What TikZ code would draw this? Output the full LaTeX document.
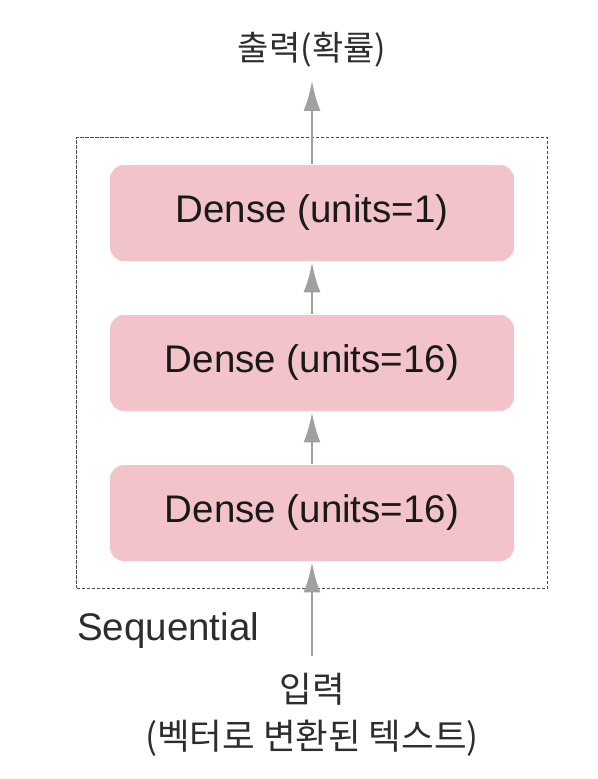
\documentclass[tikz,border=0pt]{standalone}
\usepackage{fontspec}
\setmainfont{Liberation Sans}
\newfontfamily\kr{Noto Sans CJK KR}
\usepackage{tikz}
\usetikzlibrary{arrows.meta, positioning, fit}

\definecolor{layerpink}{RGB}{242,196,201}
\definecolor{arrowgray}{RGB}{160,160,160}
\definecolor{textgray}{RGB}{45,45,45}

\begin{document}
\begin{tikzpicture}[->,>={Latex[length=30pt,width=17pt]},auto,node distance=150pt,
                    line width=2.8pt]
\tikzstyle{layer}=[fill=layerpink,draw=none,rounded corners=14pt,minimum width=404pt,
                   minimum height=96pt,text=black!90,inner sep=0pt]
\tikzset{font=\fontsize{38.5pt}{46pt}\selectfont}

        \useasboundingbox (0,0) rectangle (597pt,-779pt);

        \node[layer]                 (d3)   at (312pt,-513pt)     {Dense (units=16)};
        \node[layer]                 (d2)   [above of=d3]         {Dense (units=16)};
        \node[layer]                 (d1)   [above of=d2]         {Dense (units=1)};

        \node[draw=textgray!85,dash pattern=on 3.5pt off 1.5pt,line width=1.6pt,
              fit=(d1)(d3),inner xsep=32pt,inner ysep=26pt] (seq) {};
        \node[anchor=north west,inner sep=0pt,text=textgray] (seqlbl) at ([yshift=-22pt]seq.south west) {Sequential};

        \node[text=textgray,font=\kr\fontsize{34pt}{40pt}\selectfont,inner sep=0pt,
              node distance=163pt]   (out)  [above of=d1]         {출력(확률)};
        \node[text=textgray,font=\kr\fontsize{35.5pt}{47pt}\selectfont,inner sep=0pt,
              align=center,node distance=202pt] (in) [below of=d3] {입력\\(벡터로 변환된 텍스트)};

        \path[color=arrowgray]
        (in.north)   edge[shorten <=16pt]   (d3)
        (d3)         edge                   (d2)
        (d2)         edge                   (d1)
        (d1)         edge[shorten >=12pt]   (out)
        ; %end path

\end{tikzpicture}
\end{document}
